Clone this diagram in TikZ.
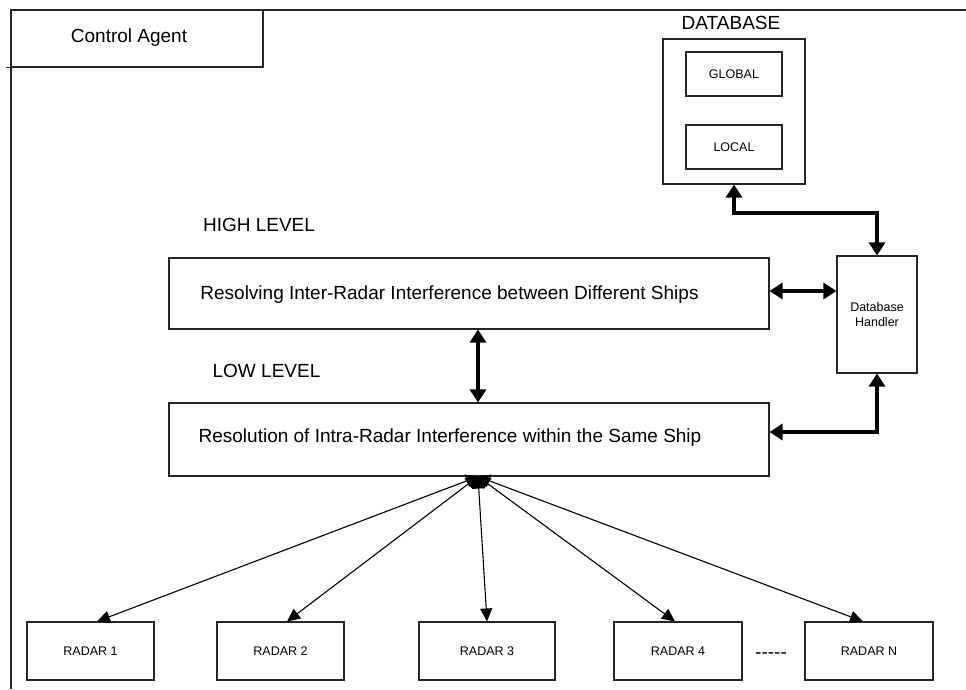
\documentclass[tikz,border=0pt]{standalone}
\usepackage{fontspec}
\setmainfont{Liberation Sans}
\usetikzlibrary{arrows.meta}
\begin{document}
\begin{tikzpicture}[x=1pt,y=-1pt,
  boxline/.style={draw=black!85,line width=1.1pt},
  box/.style={boxline,inner sep=0pt,minimum width=#1},
  big/.style={font=\fontsize{19}{22}\selectfont,inner sep=0pt},
  small/.style={font=\fontsize{12.5}{15}\selectfont,inner sep=0pt,align=center},
  link/.style={line width=4pt,{Triangle[length=13pt,width=16pt]}-{Triangle[length=13pt,width=16pt]}},
  fan/.style={line width=1.1pt,{Triangle[length=12pt,width=13pt]}-{Triangle[length=13pt,width=12pt]}}]
\useasboundingbox (0,0) rectangle (966,689);

% outer frame of the control agent
\coordinate (fr) at (11,10);
\draw[boxline] (fr) -- (966,10);
\draw[boxline] (fr) -- (11,689);
\node[box=252,minimum height=57] (ctrl) at (137,38.5) {};
\draw[boxline] (ctrl.south west) -- ++(-4,0);
\node[big] (ctrltxt) at (129,38) {Control Agent};

% database
\node[big] (dbtitle) at (731,23) {DATABASE};
\node[box=142,minimum height=145] (db) at (734,111.5) {};
\node[box=96,minimum height=44,small] (glob) at (734,74) {GLOBAL};
\node[box=96,minimum height=44,small] (loc) at (734,147) {LOCAL};

% database handler
\node[box=80,minimum height=117,small] (dbh) at (877,314.5) {Database\\Handler};

% levels
\node[big] (hightitle) at (259,225) {HIGH LEVEL};
\node[box=600,minimum height=71] (high) at (469,293.5) {};
\node[big] (hightxt) at (449.5,295) {Resolving Inter-Radar Interference between Different Ships};
\node[big] (lowtitle) at (266.5,371) {LOW LEVEL};
\node[box=600,minimum height=73] (low) at (469,439.5) {};
\node[big] (lowtxt) at (450,438) {Resolution of Intra-Radar Interference within the Same Ship};

% radars
\node[box=127,minimum height=58,small] (r1) at (90.5,651) {RADAR 1};
\node[box=127,minimum height=58,small] (r2) at (280.5,651) {RADAR 2};
\node[box=136,minimum height=58,small] (r3) at (487,651) {RADAR 3};
\node[box=128,minimum height=58,small] (r4) at (678,651) {RADAR 4};
\node[box=128,minimum height=58,small] (rn) at (869,651) {RADAR N};
\node[big] (dots) at (771,656) {-{}-{}-{}-{}-};

% thick links
\draw[link] (db.south) -- ++(0,28) -| (dbh.north);
\draw[link] ([yshift=2.5]high.east) -- ([yshift=2.5]high.east -| dbh.west);
\draw[link] ([yshift=7.5]low.east) -| (dbh.south);
\draw[link] ([xshift=9]high.south) -- ([xshift=9]low.north);

% fan-out to the radars
\coordinate (hub) at ([xshift=9]low.south);
\draw[fan] (hub) -- ([xshift=6.5]r1.north);
\draw[fan] (hub) -- ([xshift=6.5]r2.north);
\draw[fan] (hub) -- (r3.north);
\draw[fan] (hub) -- ([xshift=-3]r4.north);
\draw[fan] (hub) -- ([xshift=-6]rn.north);
\end{tikzpicture}
\end{document}
